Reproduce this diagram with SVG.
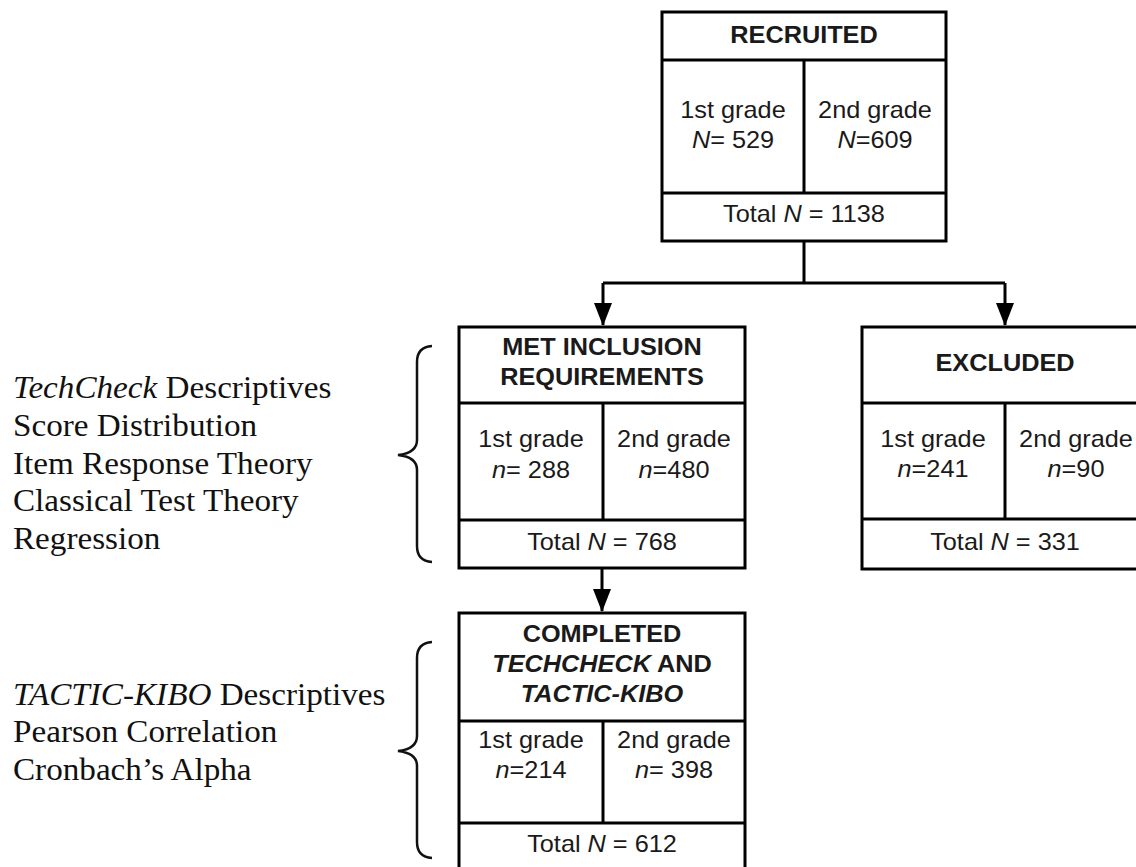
<svg xmlns="http://www.w3.org/2000/svg" width="1136" height="867" viewBox="0 0 1136 867">
<style>
.box{fill:#fff;stroke:#000;stroke-width:3}
.div{stroke:#000;stroke-width:3;fill:none}
.t{font-family:"Liberation Sans",Arial,sans-serif;font-size:23px;fill:#1a1a1a;text-anchor:middle}
.b{font-weight:bold}
.i{font-style:italic}
.s{font-family:"Liberation Serif","Times New Roman",serif;font-size:31px;fill:#111}
.con{stroke:#000;stroke-width:3;fill:none}
.brace{stroke:#111;stroke-width:2.5;fill:none}
</style>
<defs>
<marker id="ah" markerUnits="userSpaceOnUse" markerWidth="23" markerHeight="18" refX="22" refY="9" viewBox="0 0 23 18" orient="auto">
<path d="M0,0 L23,9 L0,18 Z" fill="#000"/>
</marker>
</defs>
<rect width="1136" height="867" fill="#fff"/>

<g id="connectors">
<path class="con" d="M804,241 L804,283"/>
<path class="con" d="M603,283 L1005,283"/>
<path class="con" d="M603,283 L603,325" marker-end="url(#ah)"/>
<path class="con" d="M1005,283 L1005,325" marker-end="url(#ah)"/>
<path class="con" d="M602,568 L602,611" marker-end="url(#ah)"/>
</g>

<g id="recruited">
<rect class="box" x="662" y="12" width="284" height="229"/>
<path class="div" d="M662,60 H946 M662,193 H946 M804,60 V193"/>
<text class="t b" transform="translate(804,0) scale(1.1,1)" x="0" y="43">RECRUITED</text>
<text class="t" transform="translate(733,0) scale(1.1,1)"><tspan x="0" y="118">1st grade</tspan><tspan x="0" y="148"><tspan class="i">N</tspan>= 529</tspan></text>
<text class="t" transform="translate(875,0) scale(1.1,1)"><tspan x="0" y="118">2nd grade</tspan><tspan x="0" y="148"><tspan class="i">N</tspan>=609</tspan></text>
<text class="t" transform="translate(804,0) scale(1.1,1)" x="0" y="222">Total <tspan class="i">N</tspan> = 1138</text>
</g>

<g id="met">
<rect class="box" x="459" y="327" width="286" height="241"/>
<path class="div" d="M459,403 H745 M459,520 H745 M603,403 V520"/>
<text class="t b" transform="translate(602,0) scale(1.1,1)"><tspan x="0" y="355">MET INCLUSION</tspan><tspan x="0" y="385">REQUIREMENTS</tspan></text>
<text class="t" transform="translate(531,0) scale(1.1,1)"><tspan x="0" y="447">1st grade</tspan><tspan x="0" y="478"><tspan class="i">n</tspan>= 288</tspan></text>
<text class="t" transform="translate(674,0) scale(1.1,1)"><tspan x="0" y="447">2nd grade</tspan><tspan x="0" y="478"><tspan class="i">n</tspan>=480</tspan></text>
<text class="t" transform="translate(602,0) scale(1.1,1)" x="0" y="550">Total <tspan class="i">N</tspan> = 768</text>
</g>

<g id="excluded">
<rect class="box" x="862" y="327" width="286" height="242"/>
<path class="div" d="M862,403 H1148 M862,519 H1148 M1005,403 V519"/>
<text class="t b" transform="translate(1005,0) scale(1.1,1)" x="0" y="371">EXCLUDED</text>
<text class="t" transform="translate(933,0) scale(1.1,1)"><tspan x="0" y="447">1st grade</tspan><tspan x="0" y="477"><tspan class="i">n</tspan>=241</tspan></text>
<text class="t" transform="translate(1076,0) scale(1.1,1)"><tspan x="0" y="447">2nd grade</tspan><tspan x="0" y="477"><tspan class="i">n</tspan>=90</tspan></text>
<text class="t" transform="translate(1005,0) scale(1.1,1)" x="0" y="550">Total <tspan class="i">N</tspan> = 331</text>
</g>

<g id="completed">
<rect class="box" x="459" y="613" width="286" height="270"/>
<path class="div" d="M459,721 H745 M459,823 H745 M603,721 V823"/>
<text class="t b" transform="translate(602,0) scale(1.1,1)"><tspan x="0" y="642">COMPLETED</tspan><tspan x="0" y="672"><tspan class="i">TECHCHECK</tspan> AND</tspan><tspan x="0" y="702" class="i">TACTIC-KIBO</tspan></text>
<text class="t" transform="translate(531,0) scale(1.1,1)"><tspan x="0" y="748">1st grade</tspan><tspan x="0" y="778"><tspan class="i">n</tspan>=214</tspan></text>
<text class="t" transform="translate(674,0) scale(1.1,1)"><tspan x="0" y="748">2nd grade</tspan><tspan x="0" y="778"><tspan class="i">n</tspan>= 398</tspan></text>
<text class="t" transform="translate(602,0) scale(1.1,1)" x="0" y="852">Total <tspan class="i">N</tspan> = 612</text>
</g>

<g id="analyses-1">
<path class="brace" d="M432,346 Q417,347 417,362 L417,440 Q417,453 398,455 Q417,457 417,470 L417,546 Q417,561 432,562"/>
<text class="s" transform="translate(13,0) scale(1.07,1)"><tspan x="0" y="398"><tspan class="i">TechCheck</tspan> Descriptives</tspan><tspan x="0" y="436">Score Distribution</tspan><tspan x="0" y="474">Item Response Theory</tspan><tspan x="0" y="511">Classical Test Theory</tspan><tspan x="0" y="549">Regression</tspan></text>
</g>

<g id="analyses-2">
<path class="brace" d="M432,642 Q417,643 417,658 L417,736 Q417,749 398,751 Q417,753 417,766 L417,842 Q417,857 432,858"/>
<text class="s" transform="translate(13,0) scale(1.07,1)"><tspan x="0" y="705"><tspan class="i">TACTIC-KIBO</tspan> Descriptives</tspan><tspan x="0" y="742">Pearson Correlation</tspan><tspan x="0" y="780">Cronbach’s Alpha</tspan></text>
</g>
</svg>
